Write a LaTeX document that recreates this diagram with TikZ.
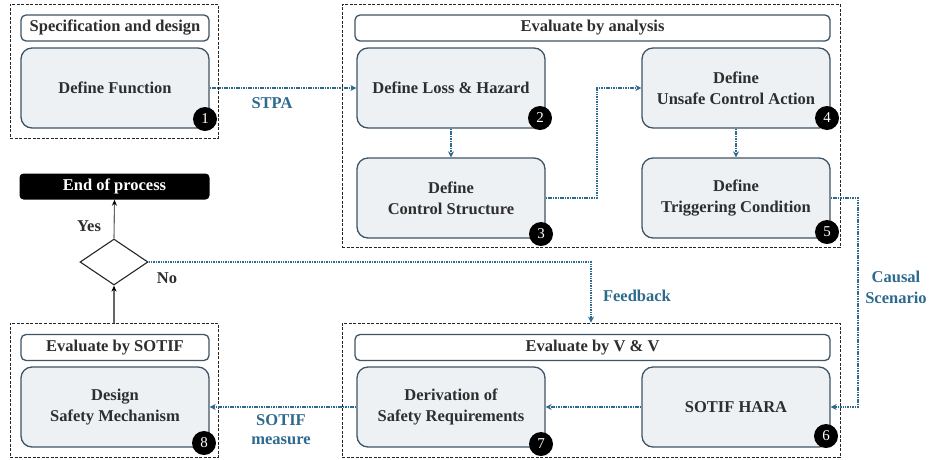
\documentclass[tikz,border=0pt]{standalone}
\usepackage{fontspec}
\setmainfont{Liberation Serif}[BoldFont={Liberation Serif Bold}]
\usetikzlibrary{shapes.geometric,arrows.meta}
\definecolor{cblue}{HTML}{2D6A8E}
\definecolor{cedge}{HTML}{3F5466}
\definecolor{cfill}{HTML}{EEF1F4}
\definecolor{ctext}{HTML}{2E2E2E}
\tikzset{
  every node/.style={font=\rmfamily\fontsize{16.5}{21}\selectfont\bfseries, text=ctext},
  group/.style={draw=black!85, dashed, dash pattern=on 3pt off 1.5pt, line width=0.9pt, inner sep=0},
  titlebox/.style={draw=cedge, line width=1.3pt, fill=white, rounded corners=5pt, minimum height=26pt, inner sep=0},
  mainbox/.style={draw=cedge, line width=1.3pt, fill=cfill, rounded corners=11pt, minimum width=188pt, minimum height=80pt, align=center, inner sep=0},
  badge/.style={circle, fill=black, minimum size=24pt, inner sep=0, text=white, font=\rmfamily\fontsize{15}{15}\selectfont},
  flow/.style={draw=cblue, line width=1.9pt, dash pattern=on 1.5pt off 0.9pt, -{Stealth[length=6pt,width=6pt]}},
  solidarrow/.style={draw=black!60, line width=1.1pt, -{Stealth[length=6pt,width=5pt,color=black]}},
  lbl/.style={text=cblue, align=center},
}
\begin{document}
\begin{tikzpicture}[x=1pt,y=-1pt]
\useasboundingbox (0,0) rectangle (935,459);
% groups
\node[group, minimum width=208pt, minimum height=134pt] (g1) at (114,71) {};
\node[group, minimum width=498pt, minimum height=243pt] (g2) at (591,125.5) {};
\node[group, minimum width=498pt, minimum height=134pt] (gvv) at (591,390) {};
\node[group, minimum width=208pt, minimum height=134pt] (gs) at (114,390) {};
% titles
\node[titlebox, minimum width=188pt] (t1) at (115,28) {Specification and design};
\node[titlebox, minimum width=475pt] (t2) at (592.5,28) {Evaluate by analysis};
\node[titlebox, minimum width=475pt] (tvv) at (592.5,347.5) {Evaluate by V \& V};
\node[titlebox, minimum width=188pt] (ts) at (115,347.5) {Evaluate by SOTIF};
% main boxes
\node[mainbox] (b1) at (115,88) {Define Function};
\node[mainbox] (b2) at (451,88) {Define Loss \& Hazard};
\node[mainbox] (b4) at (736,88) {Define\\Unsafe Control Action};
\node[mainbox] (b3) at (451,198) {Define\\Control Structure};
\node[mainbox] (b5) at (736,198) {Define\\Triggering Condition};
\node[mainbox] (b6) at (736,407) {SOTIF HARA};
\node[mainbox] (b7) at (451,407) {Derivation of\\Safety Requirements};
\node[mainbox] (b8) at (115,407) {Design\\Safety Mechanism};
% badges
\node[badge] (n1) at (205,119) {1};
\node[badge] (n2) at (540,118) {2};
\node[badge] (n3) at (541,234) {3};
\node[badge] (n4) at (827,118) {4};
\node[badge] (n5) at (827,232) {5};
\node[badge] (n6) at (826,436) {6};
\node[badge] (n7) at (541,444) {7};
\node[badge] (n8) at (204,443) {8};
% end and decision
\node[fill=black, rounded corners=4pt, minimum width=190pt, minimum height=26pt, inner sep=0, text=white] (end) at (114.5,186.5) {End of process};
\node[diamond, draw=black!85, line width=1.1pt, fill=white, minimum width=68pt, minimum height=46pt, inner sep=0] (d) at (114,262) {};
% connectors
\draw[flow] (b1.east) -- (b2.west);
\draw[flow] (b2.south) -- (b3.north);
\draw[flow] (b3.east) -- ([xshift=51pt]b3.east) |- (b4.west);
\draw[flow] (b4.south) -- (b5.north);
\draw[flow] (b5.east) -- ([xshift=27pt]b5.east) |- (b6.east);
\draw[flow] (b6.west) -- (b7.east);
\draw[flow] (b7.west) -- (b8.east);
\draw[flow] (d.east) -| (gvv.north);
\draw[solidarrow] (gs.north) -- (d.south);
\draw[solidarrow] (d.north) -- (end.south);
% labels
\node[lbl] (lstpa) at (272,103) {STPA};
\node[lbl] (lcausal) at (896,287) {Causal\\Scenario};
\node[lbl] (lfeed) at (637,296) {Feedback};
\node[lbl, font=\rmfamily\fontsize{16.5}{19}\selectfont\bfseries] (lsotif) at (281,430) {SOTIF\\measure};
\node (lyes) at (89,226) {Yes};
\node (lno) at (167,278) {No};
\end{tikzpicture}
\end{document}
